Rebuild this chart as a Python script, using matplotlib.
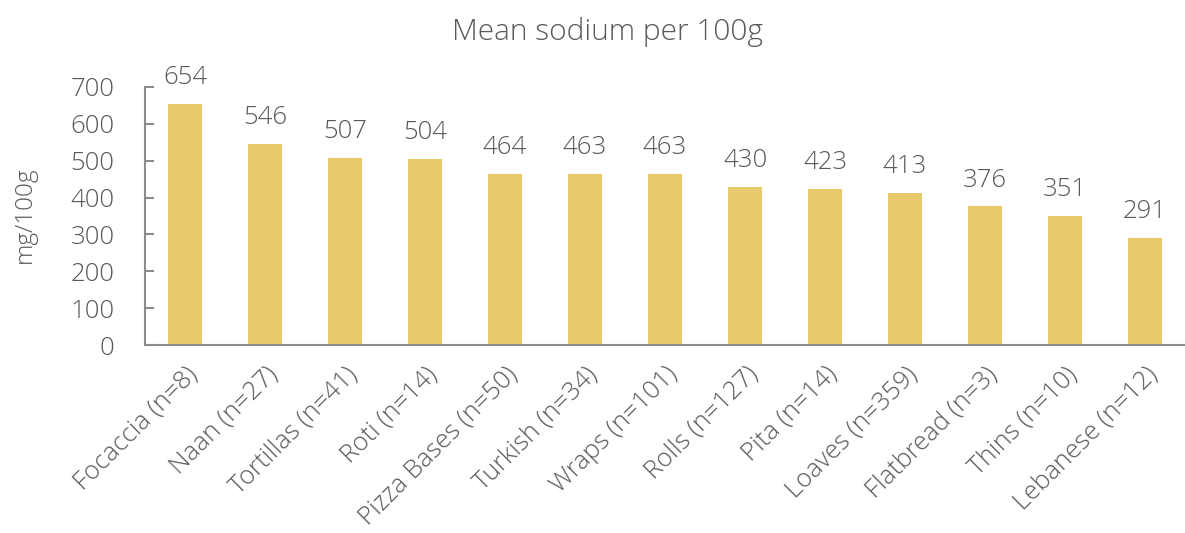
import matplotlib.pyplot as plt
import numpy as np

categories = ['Focaccia (n=8)', 'Naan (n=27)', 'Tortillas (n=41)', 'Roti (n=14)',
              'Pizza Bases (n=50)', 'Turkish (n=34)', 'Wraps (n=101)', 'Rolls (n=127)',
              'Pita (n=14)', 'Loaves (n=359)', 'Flatbread (n=3)', 'Thins (n=10)',
              'Lebanese (n=12)']
sodium = [654, 546, 507, 504, 464, 463, 463, 430, 423, 413, 376, 351, 291]

text_color = '#595959'
bar_color = '#E8C96E'
axis_color = '#8c8c8c'

plt.rcParams['font.family'] = ['Open Sans', 'DejaVu Sans']
plt.rcParams['font.weight'] = 'light'

fig = plt.figure(figsize=(11.85, 5.33), dpi=100)
ax = fig.add_axes([0.1224, 0.3527, 0.8776, 0.4841])

x = np.arange(len(categories))
bars = ax.bar(x, sodium, width=0.43, color=bar_color)

for xi, v in zip(x, sodium):
    ax.annotate(str(v), (xi, v), xytext=(0, 10), textcoords='offset points',
                ha='center', va='bottom', fontsize=18.5, color=text_color,
                annotation_clip=False)

ax.set_xlim(-0.5, len(categories) - 0.5)
ax.set_ylim(0, 700)
ax.set_yticks(range(0, 701, 100))
ax.tick_params(axis='y', colors=axis_color, labelcolor=text_color, labelsize=18.5,
               length=6.5, width=1.5, direction='in', pad=22)
ax.set_xticks(x)
ax.set_xticklabels(categories, rotation=45, ha='right', va='top',
                   rotation_mode='anchor', fontsize=18.5, color=text_color)
ax.tick_params(axis='x', length=0, pad=12)

for side in ['top', 'right']:
    ax.spines[side].set_visible(False)
for side in ['left', 'bottom']:
    ax.spines[side].set_color(axis_color)
    ax.spines[side].set_linewidth(1.5)

fig.text(0.021, 0.597, 'mg/100g', rotation=90, ha='center', va='center',
         fontsize=17.5, color=text_color)
fig.text(0.513, 0.94, 'Mean sodium per 100g', ha='center', va='center',
         fontsize=21.5, color=text_color)

plt.savefig('out.png', dpi=100)
